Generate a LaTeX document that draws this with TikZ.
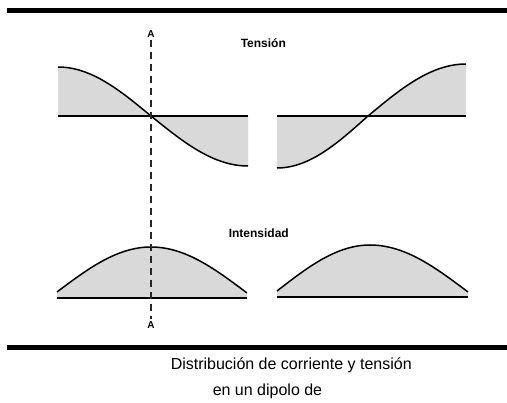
\documentclass[tikz,border=0pt]{standalone}
\usepackage{fontspec}
\setmainfont{Liberation Sans}
\newlength{\du}
\setlength{\du}{10\unitlength}

\begin{document}
\begin{tikzpicture}
\pgftransformxscale{1.000000}
\pgftransformyscale{-1.000000}
\useasboundingbox (0.000000\du,0.000000\du) rectangle (50.700000\du,40.300000\du);
\definecolor{dialinecolor}{rgb}{0.000000, 0.000000, 0.000000}
\pgfsetstrokecolor{dialinecolor}
\definecolor{dialinecolor}{rgb}{0.850000, 0.850000, 0.850000}
\pgfsetfillcolor{dialinecolor}
% top and bottom rules
\pgfsetlinewidth{0.500000\du}
\pgfsetdash{}{0pt}
\pgfsetbuttcap
\draw (0.700000\du,1.050000\du)--(50.700000\du,1.050000\du);
\draw (0.700000\du,34.750000\du)--(50.700000\du,34.750000\du);
% tension, left half
\pgfpathmoveto{\pgfpoint{5.800000\du}{11.600000\du}}
\pgfpathlineto{\pgfpoint{5.800000\du}{6.700000\du}}
\pgfpathcosine{\pgfpoint{9.300000\du}{4.900000\du}}
\pgfpathsine{\pgfpoint{9.700000\du}{5.000000\du}}
\pgfpathlineto{\pgfpoint{24.800000\du}{11.600000\du}}
\pgfpathclose
\pgfusepath{fill}
\pgfsetlinewidth{0.150000\du}
\pgfpathmoveto{\pgfpoint{5.800000\du}{6.700000\du}}
\pgfpathcosine{\pgfpoint{9.300000\du}{4.900000\du}}
\pgfpathsine{\pgfpoint{9.700000\du}{5.000000\du}}
\pgfusepath{stroke}
\pgfsetlinewidth{0.200000\du}
\draw (5.800000\du,11.600000\du)--(24.800000\du,11.600000\du);
% tension, right half
\pgfpathmoveto{\pgfpoint{27.700000\du}{11.600000\du}}
\pgfpathlineto{\pgfpoint{27.700000\du}{16.800000\du}}
\pgfpathcosine{\pgfpoint{9.100000\du}{-5.200000\du}}
\pgfpathsine{\pgfpoint{9.800000\du}{-5.200000\du}}
\pgfpathlineto{\pgfpoint{46.600000\du}{11.600000\du}}
\pgfpathclose
\pgfusepath{fill}
\pgfsetlinewidth{0.150000\du}
\pgfpathmoveto{\pgfpoint{27.700000\du}{16.800000\du}}
\pgfpathcosine{\pgfpoint{9.100000\du}{-5.200000\du}}
\pgfpathsine{\pgfpoint{9.800000\du}{-5.200000\du}}
\pgfusepath{stroke}
\pgfsetlinewidth{0.200000\du}
\draw (27.700000\du,11.600000\du)--(46.600000\du,11.600000\du);
% intensidad, left half
\pgfpathmoveto{\pgfpoint{5.700000\du}{29.800000\du}}
\pgfpathlineto{\pgfpoint{5.700000\du}{29.200000\du}}
\pgfpathsine{\pgfpoint{9.400000\du}{-4.500000\du}}
\pgfpathcosine{\pgfpoint{9.600000\du}{4.600000\du}}
\pgfpathlineto{\pgfpoint{24.700000\du}{29.800000\du}}
\pgfpathclose
\pgfusepath{fill}
\pgfsetlinewidth{0.150000\du}
\pgfpathmoveto{\pgfpoint{5.700000\du}{29.200000\du}}
\pgfpathsine{\pgfpoint{9.400000\du}{-4.500000\du}}
\pgfpathcosine{\pgfpoint{9.600000\du}{4.600000\du}}
\pgfusepath{stroke}
\pgfsetlinewidth{0.200000\du}
\draw (5.700000\du,29.800000\du)--(24.700000\du,29.800000\du);
% intensidad, right half
\pgfpathmoveto{\pgfpoint{27.700000\du}{29.700000\du}}
\pgfpathlineto{\pgfpoint{27.700000\du}{29.100000\du}}
\pgfpathsine{\pgfpoint{9.300000\du}{-4.600000\du}}
\pgfpathcosine{\pgfpoint{9.800000\du}{4.700000\du}}
\pgfpathlineto{\pgfpoint{46.800000\du}{29.700000\du}}
\pgfpathclose
\pgfusepath{fill}
\pgfsetlinewidth{0.150000\du}
\pgfpathmoveto{\pgfpoint{27.700000\du}{29.100000\du}}
\pgfpathsine{\pgfpoint{9.300000\du}{-4.600000\du}}
\pgfpathcosine{\pgfpoint{9.800000\du}{4.700000\du}}
\pgfusepath{stroke}
\pgfsetlinewidth{0.200000\du}
\draw (27.700000\du,29.700000\du)--(46.800000\du,29.700000\du);
% setfont left to latex
\node[inner sep=0.200000\du] (atop) at (15.100000\du,3.400000\du){\mbox{\fontsize{10}{11}\selectfont\bfseries A}};
\node[inner sep=0.200000\du] (abot) at (15.100000\du,32.500000\du){\mbox{\fontsize{10}{11}\selectfont\bfseries A}};
% section line A-A
\pgfsetlinewidth{0.150000\du}
\pgfsetdash{{0.700000\du}{0.500000\du}}{0\du}
{
\definecolor{dialinecolor}{rgb}{0.150000, 0.150000, 0.150000}
\pgfsetstrokecolor{dialinecolor}
\draw (atop)--(abot);
}
\pgfsetdash{}{0pt}
% setfont left to latex
\node[anchor=west,inner sep=0pt] (tension) at (24.000000\du,4.300000\du){\mbox{\fontsize{12}{14}\selectfont\bfseries Tensión}};
\node[anchor=west,inner sep=0pt] (intensidad) at (22.800000\du,23.300000\du){\mbox{\fontsize{12}{14}\selectfont\bfseries Intensidad}};
% caption
\node[anchor=west,inner sep=0pt] (cap1) at (17.000000\du,36.500000\du){\mbox{\fontsize{16}{19}\selectfont Distribución de corriente y tensión}};
\node[anchor=west,inner sep=0pt] (cap2) at (21.200000\du,39.100000\du){\mbox{\fontsize{16}{19}\selectfont en un dipolo de}};
\end{tikzpicture}
\end{document}
